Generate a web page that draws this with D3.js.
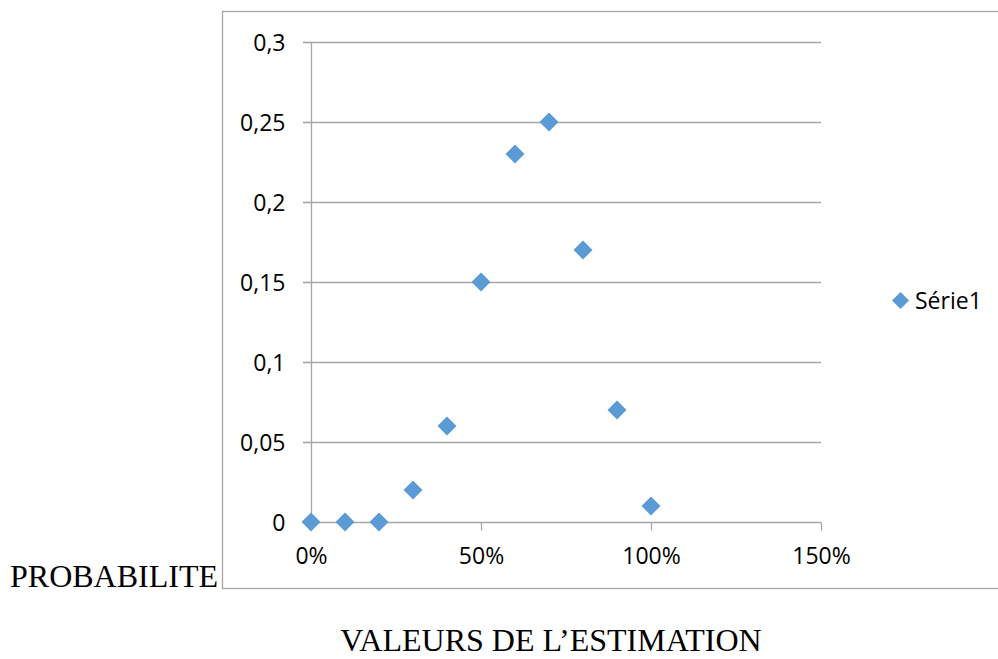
<!DOCTYPE html>
<html><head><meta charset="utf-8">
<script src="https://cdn.jsdelivr.net/npm/d3@7"></script>
<style>body{margin:0;background:#fff}svg{display:block}</style>
</head><body>
<svg id="c" width="998" height="659"></svg>
<script>
const xValues = [0, 0.1, 0.2, 0.3, 0.4, 0.5, 0.6, 0.7, 0.8, 0.9, 1.0];
const yValues = [0, 0, 0, 0.02, 0.06, 0.15, 0.23, 0.25, 0.17, 0.07, 0.01];
const xTicks = [0, 0.5, 1.0, 1.5];
const yTicks = [0, 0.05, 0.1, 0.15, 0.2, 0.25, 0.3];
const seriesName = "Série1";
const yTitle = "PROBABILITE";
const xTitle = "VALEURS DE L\u2019ESTIMATION";

const svg = d3.select("#c");
const color = "#5b9bd5";
const x = d3.scaleLinear().domain([0, 1.5]).range([311, 821]);
const y = d3.scaleLinear().domain([0, 0.3]).range([522, 42]);
const fmtY = d => String(+d.toFixed(2)).replace(".", ",");
const fmtX = d => Math.round(d * 100) + "%";
const font = "'Open Sans', sans-serif";

// chart border
svg.append("rect").attr("x", 222.5).attr("y", 11.5).attr("width", 800).attr("height", 577)
  .attr("fill", "none").attr("stroke", "#a6a6a6").attr("stroke-width", 1.3);

// gridlines
svg.append("g").selectAll("line").data(yTicks.filter(d => d > 0)).join("line")
  .attr("x1", 303).attr("x2", x(1.5)).attr("y1", d => Math.round(y(d)) + 0.5).attr("y2", d => Math.round(y(d)) + 0.5)
  .attr("stroke", "#a6a6a6").attr("stroke-width", 1.3);

// y axis
const yAxis = svg.append("g").attr("transform", "translate(311.5,0)")
  .call(d3.axisLeft(y).tickValues(yTicks).tickFormat(fmtY).tickSize(8).tickPadding(18));
// x axis
const xAxis = svg.append("g").attr("transform", "translate(0,522.5)")
  .call(d3.axisBottom(x).tickValues(xTicks).tickFormat(fmtX).tickSize(8).tickPadding(14));
[yAxis, xAxis].forEach(a => {
  a.select(".domain").attr("stroke", "#a6a6a6").attr("stroke-width", 1.3);
  a.selectAll(".tick line").attr("stroke", "#a6a6a6").attr("stroke-width", 1.3);
  a.selectAll(".tick text").attr("font-family", font).attr("font-size", 23).attr("fill", "#000");
});
yAxis.select(".domain").attr("d", `M0,${y(0.3)}V${y(0)}`);
xAxis.select(".domain").attr("d", `M${x(0)},0H${x(1.5)}`);
xAxis.selectAll(".tick text").attr("y", 41.5).attr("dy", 0);
yAxis.selectAll(".tick text").attr("dy", 0).attr("y", 8.3);

// points
svg.append("g").selectAll("path").data(xValues.map((v, i) => [v, yValues[i]])).join("path")
  .attr("transform", d => `translate(${x(d[0])},${y(d[1])}) rotate(45)`)
  .attr("d", d3.symbol().type(d3.symbolSquare).size(180))
  .attr("fill", color);

// legend
svg.append("path").attr("transform", "translate(900.5,300.5) rotate(45)")
  .attr("d", d3.symbol().type(d3.symbolSquare).size(144)).attr("fill", color);
svg.append("text").attr("x", 915).attr("y", 309).text(seriesName)
  .attr("font-family", font).attr("font-size", 23).attr("fill", "#000");

// titles
svg.append("text").attr("x", 10).attr("y", 587).text(yTitle)
  .attr("font-family", "'Liberation Serif', 'Times New Roman', serif").attr("font-size", 32).attr("fill", "#000");
svg.append("text").attr("x", 551).attr("y", 651).attr("text-anchor", "middle").text(xTitle)
  .attr("font-family", "'Liberation Serif', 'Times New Roman', serif").attr("font-size", 32).attr("fill", "#000");
</script>
</body></html>
